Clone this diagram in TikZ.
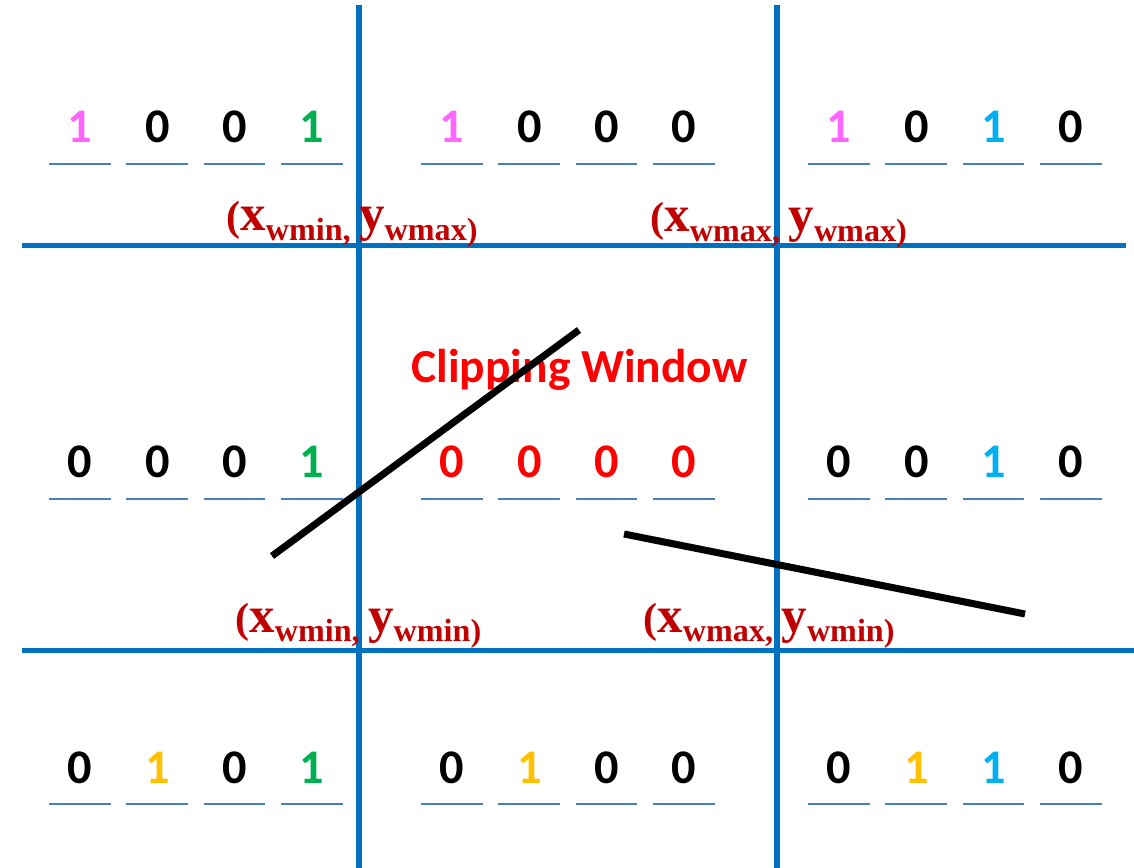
\documentclass[tikz,border=0pt]{standalone}
\usepackage{fontspec}
\setmainfont{Carlito}
\newfontfamily\labelfont{Liberation Serif}
\usetikzlibrary{positioning, calc}

\definecolor{gridblue}{RGB}{0, 112, 192}
\definecolor{lineblue}{RGB}{74, 126, 187}
\definecolor{bitpink}{RGB}{255, 102, 255}
\definecolor{bitgreen}{RGB}{0, 176, 80}
\definecolor{bitsky}{RGB}{0, 176, 240}
\definecolor{bitamber}{RGB}{255, 192, 0}
\definecolor{bitred}{RGB}{255, 0, 0}
\definecolor{darkred}{RGB}{192, 0, 0}

% one row of four region-code bits, each with its underline
\newcommand{\bitrow}[4]{%
  \foreach \c/\d [count=\i] in {#4} {
    \node[bit, text=\c] (#1\i) at ({#2+77.3*(\i-1)}, #3) {\d};
    \draw[uline] (#1\i.south west) -- (#1\i.south east);
  }}

% corner label (x_a, y_b)
\newcommand{\cornerlbl}[2]{%
  {\fontsize{24}{28}\selectfont(}{\fontsize{29}{32}\selectfont x}%
  \raisebox{-5.5pt}{\fontsize{18.3}{22}\selectfont #1,}%
  {\fontsize{29}{32}\selectfont\,y}\raisebox{-5.5pt}{\fontsize{18.3}{22}\selectfont #2)}}

\begin{document}
\begin{tikzpicture}[
  x=0.02cm, y=-0.02cm,
  bit/.style={anchor=base, inner sep=0pt, minimum width=1.22cm, text depth=0.42cm,
    font=\fontsize{27.5}{30}\selectfont\bfseries},
  uline/.style={draw=lineblue, line width=1.1pt},
  gridline/.style={draw=gridblue, line width=3.4pt},
  cut/.style={draw=black, line width=4pt},
  corner/.style={inner sep=0pt, anchor=base west, text=darkred, font=\labelfont\bfseries},
  title/.style={inner sep=0pt, text=bitred, font=\fontsize{27}{30}\selectfont\bfseries}
]
  \useasboundingbox (0,0) rectangle (1134,868);

  % window boundaries
  \coordinate (wmin) at (359,650.5);
  \coordinate (wmax) at (777,245.5);
  \draw[gridline] (wmin |- 0,5) -- (wmin |- 0,868);
  \draw[gridline] (wmax |- 0,5) -- (wmax |- 0,868);
  \draw[gridline] (22,0 |- wmax) -- (1126,0 |- wmax);
  \draw[gridline] (22,0 |- wmin) -- (1134,0 |- wmin);

  % region codes
  \bitrow{tl}{80}{143}{bitpink/1, black/0, black/0, bitgreen/1}
  \bitrow{tc}{452}{143}{bitpink/1, black/0, black/0, black/0}
  \bitrow{tr}{839}{143}{bitpink/1, black/0, bitsky/1, black/0}
  \bitrow{ml}{80}{478}{black/0, black/0, black/0, bitgreen/1}
  \bitrow{mc}{452}{478}{bitred/0, bitred/0, bitred/0, bitred/0}
  \bitrow{mr}{839}{478}{black/0, black/0, bitsky/1, black/0}
  \bitrow{bl}{80}{783}{black/0, bitamber/1, black/0, bitgreen/1}
  \bitrow{bc}{452}{783}{black/0, bitamber/1, black/0, black/0}
  \bitrow{br}{839}{783}{black/0, bitamber/1, bitsky/1, black/0}

  \node[title] (window) at (579.5,370) {Clipping Window};

  % corner labels
  \node[corner] (ltop) at (226,231) {\cornerlbl{wmin}{wmax}};
  \node[corner] (rtop) at (650,232) {\cornerlbl{wmax}{wmax}};
  \node[corner] (lbot) at (235,632) {\cornerlbl{wmin}{wmin}};
  \node[corner] (rbot) at (643,632) {\cornerlbl{wmax}{wmin}};

  % line segments to clip
  \coordinate (p1) at (272,556);
  \coordinate (q1) at (579,330);
  \coordinate (p2) at (624,534);
  \coordinate (q2) at (1025,614);
  \draw[cut] (p1) -- (q1);
  \draw[cut] (p2) -- (q2);
\end{tikzpicture}
\end{document}
